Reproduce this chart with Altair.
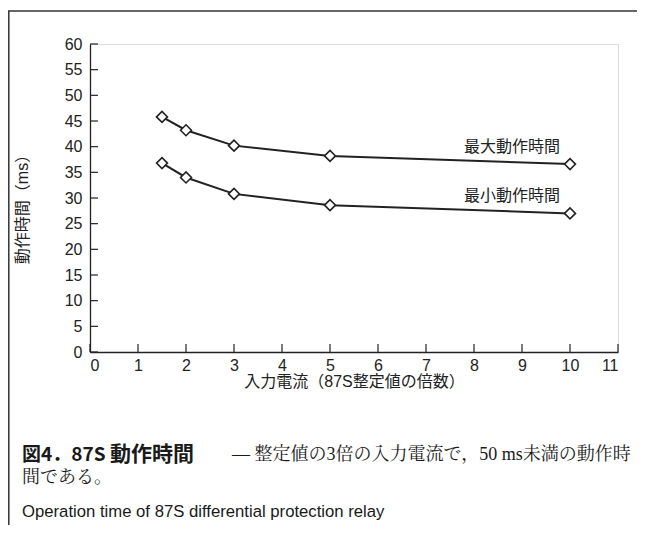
import altair as alt
import pandas as pd

# ---- data ----
input_current = [1.5, 2, 3, 5, 10]          # multiples of the 87S setting
max_time = [45.8, 43.2, 40.2, 38.2, 36.6]   # ms
min_time = [36.8, 34.0, 30.8, 28.6, 27.0]   # ms
series_names = ["最大動作時間", "最小動作時間"]
x_ticks = list(range(0, 12))
y_ticks = list(range(0, 65, 5))

x_title = "入力電流（87S整定値の倍数）"
y_title = "動作時間（ms）"
caption_fig = "図4．87S"
caption_bold = "動作時間"
caption_rest = "— 整定値の3倍の入力電流で，50 ms未満の動作時"
caption_line2 = "間である。"
caption_en = "Operation time of 87S differential protection relay"

rows = []
for name, vals in zip(series_names, [max_time, min_time]):
    for xv, yv in zip(input_current, vals):
        rows.append({"series": name, "x": xv, "y": yv})
df = pd.DataFrame(rows)
label_df = pd.DataFrame({
    "series": series_names,
    "x": [input_current[-1]] * 2,
    "y": [max_time[-1], min_time[-1]],
})

W, H = 528, 308
INK = "#222222"
SANS = "Liberation Sans, Arial, Noto Sans CJK JP"
CJK = "Noto Sans CJK JP"
SERIF = "Liberation Serif, Noto Serif CJK JP, Noto Sans CJK JP"
TICK = 8

xs = alt.Scale(domain=[0, 11], nice=False, zero=False)
ys = alt.Scale(domain=[0, 60], nice=False)

x_axis = alt.Axis(
    values=x_ticks, ticks=False, grid=False, labelPadding=5, labelOverlap=False,
    domainColor=INK, domainWidth=1.3, labelColor=INK, labelFontSize=16,
    labelFont=SANS, title=x_title, titleFont=SANS, titleFontSize=16,
    titleFontWeight="normal", titleColor=INK, titleX=W / 2, titleY=29,
    titleBaseline="middle", titleAlign="center")
y_axis = alt.Axis(
    values=y_ticks, ticks=False, grid=False, labelOverlap=False,
    labelPadding=8, domainColor=INK, domainWidth=1.3, labelColor=INK,
    labelFontSize=16, labelFont=SANS, title=y_title, titleFont=SANS,
    titleFontSize=16, titleFontWeight="normal", titleColor=INK,
    titleX=-68, titleY=161, titleAngle=-90, titleBaseline="middle",
    titleAlign="center")

def X():
    return alt.X("x:Q", scale=xs, axis=x_axis)

def Y():
    return alt.Y("y:Q", scale=ys, axis=y_axis)

base = alt.Chart(df)
lines = base.mark_line(color=INK, strokeWidth=2).encode(
    x=X(), y=Y(), detail="series:N")
points = base.mark_point(shape="diamond", filled=True, fill="white",
                         stroke=INK, strokeWidth=1.6, size=120, opacity=1).encode(
    x=X(), y=Y(), detail="series:N")

labels = alt.Chart(label_df).mark_text(
    align="right", baseline="middle", dx=-10, dy=-17, fontSize=16,
    font=CJK, color=INK).encode(x=X(), y=Y(), text="series:N")

xtick_df = pd.DataFrame({"x": x_ticks})
xticks = alt.Chart(xtick_df).mark_rule(color=INK, strokeWidth=1.2).encode(
    x=X(), y=alt.value(H), y2=alt.value(H - TICK))
ytick_df = pd.DataFrame({"y": y_ticks})
yticks = alt.Chart(ytick_df).mark_rule(color=INK, strokeWidth=1.2).encode(
    y=Y(), x=alt.value(0), x2=alt.value(TICK))

one = alt.Data(values=[{"a": 1}])
frame_top = alt.Chart(one).mark_rule(color="#333333", strokeWidth=1.5).encode(
    x=alt.value(-82), x2=alt.value(600), y=alt.value(-33))
frame_left = alt.Chart(one).mark_rule(color="#333333", strokeWidth=1.5).encode(
    x=alt.value(-81.2), y=alt.value(-33), y2=alt.value(600))

def cap(text, x, y, font, size, weight="normal"):
    return alt.Chart(alt.Data(values=[{"t": text}])).mark_text(
        align="left", baseline="middle", font=font, fontSize=size,
        fontWeight=weight, color="#1a1a1a").encode(
        x=alt.value(x), y=alt.value(y), text="t:N")

cap1 = cap(caption_fig, -68, 411, CJK, 19, "bold")
cap1b = cap(caption_bold, 20, 411, CJK, 21, "bold")
cap2 = cap(caption_rest, 142, 411, SERIF, 18)
cap3 = cap(caption_line2, -68, 434, SERIF, 18)
cap4 = cap(caption_en, -68, 468, SANS, 16.7)

chart = alt.layer(
    lines, points, labels, xticks, yticks, frame_top, frame_left,
    cap1, cap1b, cap2, cap3, cap4
).properties(
    width=W, height=H,
    autosize=alt.AutoSizeParams(type="none"),
    padding={"left": 82, "top": 36, "right": 19, "bottom": 173},
).configure_view(stroke=None).configure(background="white")

chart.save("out.html", embed_options={"renderer": "svg", "actions": False})
